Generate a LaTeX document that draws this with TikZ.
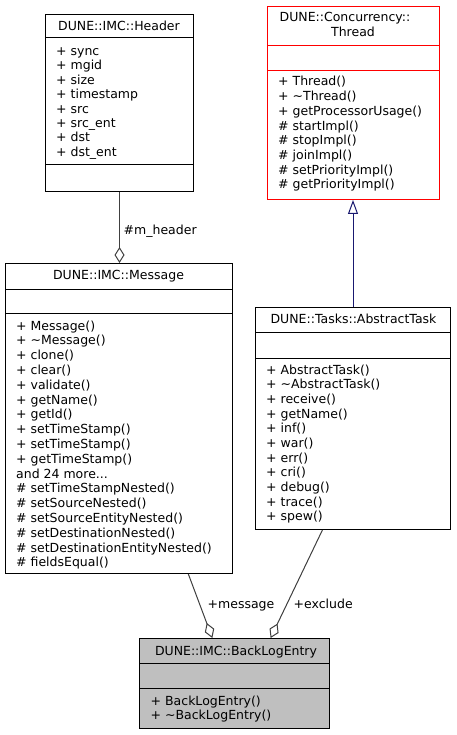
\documentclass[tikz,border=0pt]{standalone}
\usepackage{fontspec}
\setmainfont{DejaVu Sans}
\usetikzlibrary{arrows.meta,calc}
\definecolor{edgegray}{HTML}{404040}
\definecolor{inhblue}{HTML}{191970}
\definecolor{hilite}{HTML}{BFBFBF}
\newcommand\mydots{...}
\tikzset{
  classbox/.style={draw=black, line width=1pt, rectangle, inner sep=0pt, anchor=north west},
  sepline/.style={line width=1pt},
  ttl/.style={anchor=base, inner sep=0pt, font=\fontsize{12.5}{14.7}\selectfont},
  mem/.style={anchor=base west, inner sep=0pt, font=\fontsize{12.5}{14.7}\selectfont},
  lbl/.style={anchor=base west, inner sep=0pt, font=\fontsize{12.5}{14.7}\selectfont},
  agg/.style={draw=edgegray, line width=1pt, -{Diamond[open, length=16pt, width=10pt, line width=1pt]}},
  inh/.style={draw=inhblue, line width=1pt, -{Triangle[open, length=14pt, width=10pt, line width=1pt]}},
}
\begin{document}
\begin{tikzpicture}[x=1pt, y=-1pt]
\fill[white] (0,0) rectangle (456,735);
\useasboundingbox (0,0) rectangle (456,735);

% DUNE::IMC::Header
\node[classbox, minimum width=148pt, minimum height=177pt] (hdr) at (45,14) {};
\draw[sepline] ($(hdr.north west)+(0,24)$) -- ($(hdr.north east)+(0,24)$);
\draw[sepline] ($(hdr.north west)+(0,151)$) -- ($(hdr.north east)+(0,151)$);
\node[ttl] (hdrt) at (119,30.7) {DUNE::IMC::Header};
\foreach \t [count=\i from 0] in {+ sync, + mgid, + size, + timestamp, + src, + src\_ent, + dst, + dst\_ent}
  \node[mem] (hdrm\i) at (56, 55.5+\i*14.4) {\t};

% DUNE::Concurrency::Thread
\node[classbox, draw=red, minimum width=172pt, minimum height=193pt] (thr) at (267,6) {};
\draw[sepline, red] ($(thr.north west)+(0,40)$) -- ($(thr.north east)+(0,40)$);
\draw[sepline, red] ($(thr.north west)+(0,65)$) -- ($(thr.north east)+(0,65)$);
\node[ttl] (thrt1) at (345,21.7) {DUNE::Concurrency::};
\node[ttl] (thrt2) at (353,36.7) {Thread};
\foreach \t [count=\i from 0] in {+ Thread(), + \textasciitilde Thread(), + getProcessorUsage(), \# startImpl(), \# stopImpl(), \# joinImpl(), \# setPriorityImpl(), \# getPriorityImpl()}
  \node[mem] (thrm\i) at (278, 86+\i*14.7) {\t};

% DUNE::IMC::Message
\node[classbox, minimum width=227pt, minimum height=310pt] (msg) at (5,263) {};
\draw[sepline] ($(msg.north west)+(0,26)$) -- ($(msg.north east)+(0,26)$);
\draw[sepline] ($(msg.north west)+(0,50)$) -- ($(msg.north east)+(0,50)$);
\node[ttl] (msgt) at (118.5,279.3) {DUNE::IMC::Message};
\foreach \t [count=\i from 0] in {+ Message(), + \textasciitilde Message(), + clone(), + clear(), + validate(), + getName(), + getId(), + setTimeStamp(), + setTimeStamp(), + getTimeStamp(), and 24 more\mydots, \# setTimeStampNested(), \# setSourceNested(), \# setSourceEntityNested(), \# setDestinationNested(), \# setDestinationEntityNested(), \# fieldsEqual()}
  \node[mem] (msgm\i) at (16, 330+\i*14.8) {\t};

% DUNE::Tasks::AbstractTask
\node[classbox, minimum width=195pt, minimum height=222pt] (abs) at (255,307) {};
\draw[sepline] ($(abs.north west)+(0,25)$) -- ($(abs.north east)+(0,25)$);
\draw[sepline] ($(abs.north west)+(0,51)$) -- ($(abs.north east)+(0,51)$);
\node[ttl] (abst) at (353.5,323.3) {DUNE::Tasks::AbstractTask};
\foreach \t [count=\i from 0] in {+ AbstractTask(), + \textasciitilde AbstractTask(), + receive(), + getName(), + inf(), + war(), + err(), + cri(), + debug(), + trace(), + spew()}
  \node[mem] (absm\i) at (266, 374+\i*14.67) {\t};

% DUNE::IMC::BackLogEntry
\node[classbox, fill=hilite, minimum width=190pt, minimum height=90pt] (ble) at (139,638) {};
\draw[sepline] ($(ble.north west)+(0,25)$) -- ($(ble.north east)+(0,25)$);
\draw[sepline] ($(ble.north west)+(0,50)$) -- ($(ble.north east)+(0,50)$);
\node[ttl] (blet) at (236,655) {DUNE::IMC::BackLogEntry};
\node[mem] (blem0) at (150.5,705) {+ BackLogEntry()};
\node[mem] (blem1) at (150.5,719.5) {+ \textasciitilde BackLogEntry()};

% connectors
\draw[agg] (hdr.south) -- (hdr.south |- msg.north);
\node[lbl] (lblhdr) at (123.5,234.3) {\#m\_header};

\draw[inh] (abs.north) -- (abs.north |- thr.south);

\draw[agg] ($(msg.south west)!0.804!(msg.south east)$) -- ($(ble.north west)!0.384!(ble.north east)$);
\node[lbl] (lblmsg) at (207.5,608) {+message};

\draw[agg] ($(abs.south west)!0.344!(abs.south east)$) -- ($(ble.north west)!0.689!(ble.north east)$);
\node[lbl] (lblexc) at (293.5,608) {+exclude};
\end{tikzpicture}
\end{document}
